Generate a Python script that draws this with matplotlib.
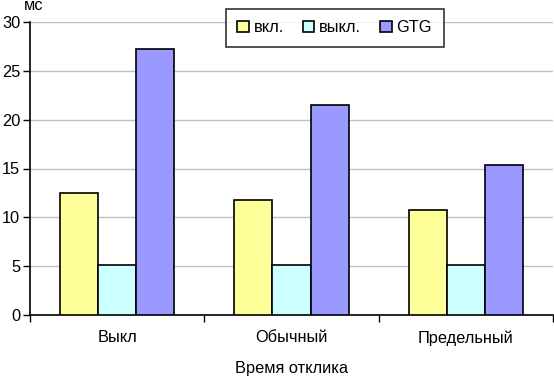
import numpy as np
import matplotlib
matplotlib.use('Agg')
import matplotlib.pyplot as plt

plt.rcParams['font.family'] = ['Liberation Sans', 'DejaVu Sans']

categories = ['Выкл', 'Обычный', 'Предельный']
series_names = ['вкл.', 'выкл.', 'GTG']
vkl = [12.5, 11.8, 10.8]
vykl = [5.1, 5.1, 5.1]
gtg = [27.2, 21.5, 15.4]
colors = ['#ffff99', '#ccffff', '#9999ff']

fig = plt.figure(figsize=(5.54, 3.77), dpi=100)
ax = fig.add_axes([30/554, 62/377, 523/554, 293/377])

x = np.arange(len(categories))
w = 0.218
for i, (vals, name, col) in enumerate(zip([vkl, vykl, gtg], series_names, colors)):
    ax.bar(x + (i - 1) * w, vals, w, color=col, edgecolor='black', linewidth=1.2,
           label=name, zorder=3)

fs = 11.8
ax.set_xlim(-0.5, 2.5)
ax.set_ylim(0, 30)
ax.set_yticks(range(0, 31, 5))
ax.grid(axis='y', color='#c0c0c0', linewidth=1, zorder=0)
ax.set_xticks(x)
ax.set_xticklabels(categories, fontsize=fs)
ax.set_xticks(np.arange(-0.5, 3, 1), minor=True)
ax.tick_params(axis='x', which='major', length=0, pad=11)
ax.tick_params(axis='x', which='minor', length=5, width=1, direction='out')
ax.tick_params(axis='y', length=5, width=1, direction='out', labelsize=fs, pad=2)
for s in ['top', 'right']:
    ax.spines[s].set_visible(False)
for s in ['left', 'bottom']:
    ax.spines[s].set_linewidth(1.2)

ax.set_xlabel('Время отклика', fontsize=fs, labelpad=11)
fig.text(24/554, 1 - 6/377, 'мс', fontsize=fs, va='center', ha='left')

leg = ax.legend(loc='upper left', bbox_to_anchor=((226-30)/523, 1 + 13/293), ncol=3,
                frameon=True, fancybox=False, edgecolor='black', fontsize=fs,
                handlelength=0.7, handleheight=0.7, handletextpad=0.3, columnspacing=1.15,
                borderpad=0.7, borderaxespad=0)
leg.get_frame().set_linewidth(1.2)

fig.savefig('out.png', dpi=100)
